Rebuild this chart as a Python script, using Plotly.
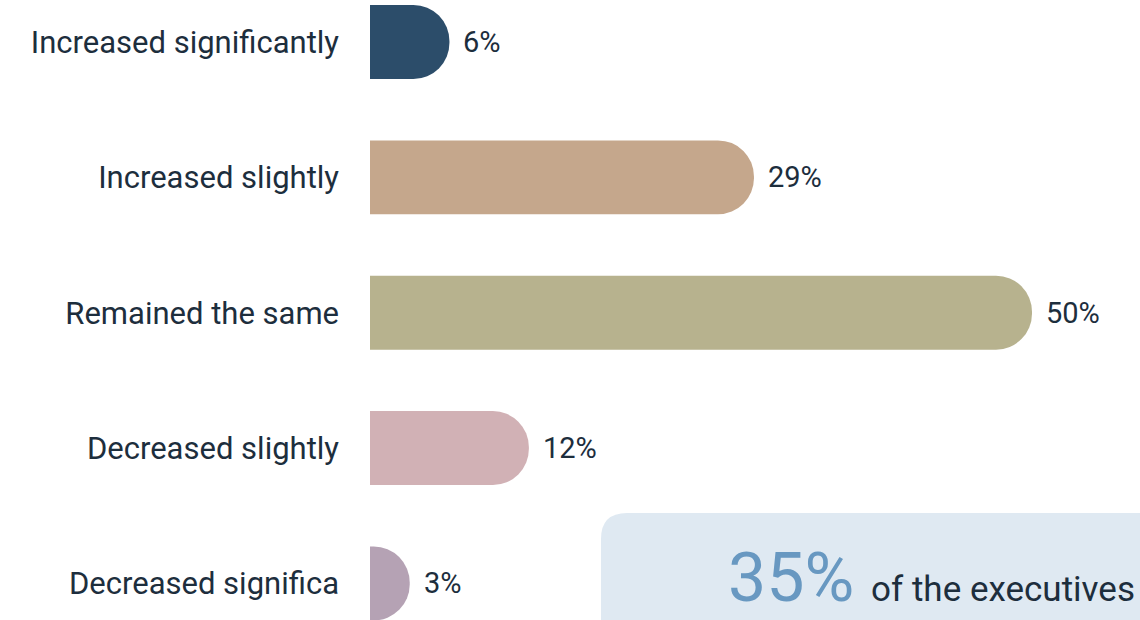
import plotly.graph_objects as go

# 数据
categories = ["Increased significantly", "Increased slightly", "Remained the same",
              "Decreased slightly", "Decreased significa"]
values = [6, 29, 50, 12, 3]
value_labels = ["6%", "29%", "50%", "12%", "3%"]
colors = ["#2c4d6a", "#c5a78c", "#b7b28e", "#d1b1b5", "#b5a2b4"]

callout_value = "35%"
callout_text = "of the executives"

W, H = 1140, 620
LEFT = 370
FONT = "Roboto"
DARK = "#1d2e3d"

fig = go.Figure(go.Bar(
    x=values,
    y=categories,
    orientation="h",
    width=0.546,
    marker=dict(color=colors, cornerradius=37, line=dict(width=0)),
    hoverinfo="skip",
))

# 数值标签
for cat, v, lab in zip(categories, values, value_labels):
    fig.add_annotation(
        x=v, y=cat, text=lab, showarrow=False,
        xanchor="left", yanchor="middle", xshift=12,
        font=dict(family=FONT, size=29, color=DARK),
    )


def px(x, y):
    """像素坐标 -> paper坐标"""
    return (x - LEFT) / (W - LEFT), 1 - y / H


# 右下角提示框
r = 26
p = [px(601, 630), px(601, 513 + r), px(601, 513), px(601 + r, 513),
     px(1150, 513), px(1150, 630)]
path = ("M {0[0]},{0[1]} L {1[0]},{1[1]} Q {2[0]},{2[1]} {3[0]},{3[1]} "
        "L {4[0]},{4[1]} L {5[0]},{5[1]} Z").format(*p)
fig.add_shape(type="path", path=path, xref="paper", yref="paper",
              fillcolor="#dfe9f2", line=dict(width=0), layer="above")

ax, ay = px(726, 578)
fig.add_annotation(
    x=ax, y=ay, xref="paper", yref="paper", showarrow=False,
    xanchor="left", yanchor="middle",
    text=f"<span style='font-size:68px;color:#6898c1'>{callout_value} </span>{callout_text}",
    font=dict(family=FONT, size=35, color=DARK),
)

fig.update_layout(
    width=W, height=H,
    margin=dict(l=LEFT, r=0, t=0, b=0),
    paper_bgcolor="white", plot_bgcolor="white",
    showlegend=False,
    xaxis=dict(range=[0, 50 * (W - LEFT) / 662], visible=False, fixedrange=True),
    yaxis=dict(
        range=[4.27, -0.31], showgrid=False, zeroline=False, showline=False,
        ticks="", ticklabelstandoff=30,
        tickfont=dict(family=FONT, size=31, color=DARK),
    ),
)

fig.write_html("out.html", config={"displayModeBar": False},
               post_script="document.body.style.margin='0';")
